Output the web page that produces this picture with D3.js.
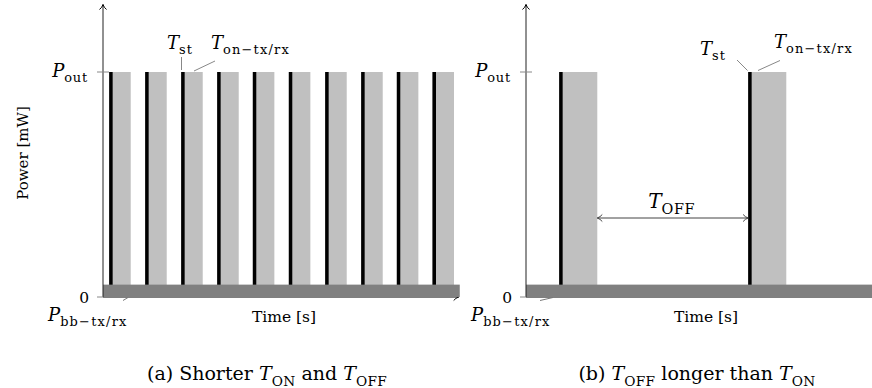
<!DOCTYPE html>
<html>
<head>
<meta charset="utf-8">
<title>Power vs time</title>
<script src="https://cdn.jsdelivr.net/npm/d3@7"></script>
<style>
body { margin: 0; background: #fff; }
svg { display: block; }
text { font-family: "DejaVu Serif", serif; fill: #000; }
</style>
<script>
// pulse start times (arbitrary time units, 0..100 per panel)
var leftStarts = [1.7, 11.7, 21.7, 31.7, 41.6, 51.6, 61.7, 71.7, 81.6, 91.5];
var leftStDur = 1.0;
var leftOnDur = 5.0;
var rightStarts = [9.2, 61.7];
var rightStDur = 1.0;
var rightOnDur = 9.6;

// power levels (normalised, P_out = 1)
var pOut = 1.0;
var pBB = 0.055;
var yTickValues = [0, pOut];

var captions = ["(a)", "(b)"];

var W = 872, H = 388;

// write a label made of italic letters and subscripts
var mathText = function(g, x, y, anchor, size, parts, ls) {
  var t = g.append('text')
    .attr('x', x).attr('y', y)
    .attr('text-anchor', anchor)
    .style('font-size', size + 'px');
  var off = 0;
  parts.forEach(function(p) {
    var target = p.sub ? size * 0.3 : 0;
    t.append('tspan')
      .attr('dy', target - off)
      .style('font-style', p.it ? 'italic' : 'normal')
      .style('font-size', p.sub ? (size * 0.72) + 'px' : size + 'px')
      .style('letter-spacing', p.sub && ls ? ls + 'px' : null)
      .text(p.t);
    off = target;
  });
  return t;
}

var upArrow = function(g, x, y) {
  g.append('path')
    .attr('d', 'M' + (x-3.5) + ',' + (y+5) + ' Q' + (x-1) + ',' + (y+3) + ' ' + x + ',' + y +
               ' Q' + (x+1) + ',' + (y+3) + ' ' + (x+3.5) + ',' + (y+5))
    .attr('fill', 'none').attr('stroke', '#000').attr('stroke-width', 1);
}

var hArrow = function(g, x, y, dir, col) {
  g.append('path')
    .attr('d', 'M' + (x - dir*5) + ',' + (y-3.5) + ' Q' + (x - dir*3) + ',' + (y-1) + ' ' + x + ',' + y +
               ' Q' + (x - dir*3) + ',' + (y+1) + ' ' + (x - dir*5) + ',' + (y+3.5))
    .attr('fill', 'none').attr('stroke', col).attr('stroke-width', 1);
}

var drawPanel = function(svg, o) {
  var g = svg.append('g');
  var x = o.x, y = o.y;

  // on-state (grey) and start-up (black) pulses
  g.selectAll('rect.on').data(o.starts).enter().append('rect')
    .attr('class', 'on')
    .attr('x', function(d) { return x(d + o.stDur); })
    .attr('width', function(d) { return x(d + o.stDur + o.onDur) - x(d + o.stDur); })
    .attr('y', y(pOut))
    .attr('height', y(0) - y(pOut))
    .attr('fill', '#c0c0c0');
  g.selectAll('rect.st').data(o.starts).enter().append('rect')
    .attr('class', 'st')
    .attr('x', function(d) { return x(d); })
    .attr('width', function(d) { return x(d + o.stDur) - x(d); })
    .attr('y', y(pOut))
    .attr('height', y(0) - y(pOut))
    .attr('fill', '#000');

  // x axis (mostly hidden under baseband level)
  g.append('line')
    .attr('x1', x(0)).attr('x2', x(o.xEnd))
    .attr('y1', y(0)).attr('y2', y(0))
    .attr('stroke', '#000').attr('stroke-width', 1);
  hArrow(g, x(o.xEnd), y(0), 1, '#000');

  // baseband power band
  g.append('rect')
    .attr('x', x(0)).attr('width', x(o.bandEnd) - x(0))
    .attr('y', y(pBB)).attr('height', y(0) - y(pBB))
    .attr('fill', '#808080');

  // y axis
  g.append('line')
    .attr('x1', x(0)).attr('x2', x(0))
    .attr('y1', y(0)).attr('y2', y(1.3))
    .attr('stroke', '#222').attr('stroke-width', 1);
  upArrow(g, x(0), y(1.3));

  // y ticks
  g.selectAll('line.tick').data(yTickValues).enter().append('line')
    .attr('class', 'tick')
    .attr('x1', x(0) - 6).attr('x2', function(d) { return d > 0 ? x(0) + 6 : x(0); })
    .attr('y1', y).attr('y2', y)
    .attr('stroke', '#888').attr('stroke-width', 1);
  g.append('text')
    .attr('x', x(0) - 14).attr('y', y(0) + 6)
    .attr('text-anchor', 'end')
    .style('font-size', '15.5px')
    .text('0');
  mathText(g, x(0) - 15, y(pOut) + 5, 'end', 18, [{t: 'P', it: true}, {t: 'out', sub: true}], 0.8);

  // baseband label + pointer
  mathText(g, x(0) - 55, 321, 'start', 18, [{t: 'P', it: true}, {t: 'bb\u2212tx/rx', sub: true}], 1.2);
  g.append('line')
    .attr('x1', x(0) + o.bbPtr[0]).attr('y1', 300.5)
    .attr('x2', x(0) + o.bbPtr[1]).attr('y2', 297.5)
    .attr('stroke', '#777').attr('stroke-width', 1);

  // axis labels + caption
  g.append('text')
    .attr('x', o.timeX).attr('y', 322)
    .attr('text-anchor', 'middle')
    .style('font-size', '15.5px')
    .text('Time [s]');

  mathText(g, o.capX, 380, 'middle', 19, o.caption, 0.3);

  // T_st / T_on annotations
  var a = o.ann;
  mathText(g, a.stX, a.stY, 'start', 18, [{t: 'T', it: true}, {t: 'st', sub: true}], 1);
  mathText(g, a.onX, a.onY, 'start', 18, [{t: 'T', it: true}, {t: 'on\u2212tx/rx', sub: true}], 1.2);
  a.lines.forEach(function(l) {
    g.append('line')
      .attr('x1', l[0]).attr('y1', l[1]).attr('x2', l[2]).attr('y2', l[3])
      .attr('stroke', '#888').attr('stroke-width', 1);
  });
  return g;
}

window.onload = function() {
  var svg = d3.select('body').append('svg').attr('width', W).attr('height', H);

  var y = d3.scaleLinear().domain([0, 1]).range([297, 72]);
  var xL = d3.scaleLinear().domain([0, 100]).range([103, 463]);
  var xR = d3.scaleLinear().domain([0, 100]).range([526, 886]);

  drawPanel(svg, {
    x: xL, y: y, starts: leftStarts, stDur: leftStDur, onDur: leftOnDur,
    xEnd: 98.8, bandEnd: 99.1, bbPtr: [20, 25], timeX: 284, capX: 267,
    caption: [{t: captions[0] + ' Shorter '}, {t: 'T', it: true}, {t: 'ON', sub: true},
              {t: ' and '}, {t: 'T', it: true}, {t: 'OFF', sub: true}],
    ann: {stX: 167, stY: 49, onX: 211, onY: 49,
          lines: [[181.5, 57, 181.5, 70], [194, 71, 215, 61]]}
  });

  var gR = drawPanel(svg, {
    x: xR, y: y, starts: rightStarts, stDur: rightStDur, onDur: rightOnDur,
    xEnd: 100, bandEnd: 100, bbPtr: [14, 27], timeX: 706, capX: 697,
    caption: [{t: captions[1] + ' '}, {t: 'T', it: true}, {t: 'OFF', sub: true},
              {t: ' longer than '}, {t: 'T', it: true}, {t: 'ON', sub: true}],
    ann: {stX: 700, stY: 55, onX: 774, onY: 48,
          lines: [[737, 60, 747.5, 70.5], [758, 70.5, 780, 60.5]]}
  });

  // T_OFF span between end of first pulse and start of second
  var x0 = xR(rightStarts[0] + rightStDur + rightOnDur), x1 = xR(rightStarts[1]);
  var ya = 218;
  gR.append('line')
    .attr('x1', x0).attr('x2', x1).attr('y1', ya).attr('y2', ya)
    .attr('stroke', '#444').attr('stroke-width', 1);
  hArrow(gR, x0, ya, -1, '#444');
  hArrow(gR, x1, ya, 1, '#444');
  mathText(gR, (x0 + x1) / 2 - 1, 208, 'middle', 20, [{t: 'T', it: true}, {t: 'OFF', sub: true}], 0.6);

  // shared y-axis label
  svg.append('text')
    .attr('transform', 'translate(28,153) rotate(-90)')
    .attr('text-anchor', 'middle')
    .style('font-size', '15px')
    .text('Power [mW]');
}
</script>
</head>
<body>
</body>
</html>
